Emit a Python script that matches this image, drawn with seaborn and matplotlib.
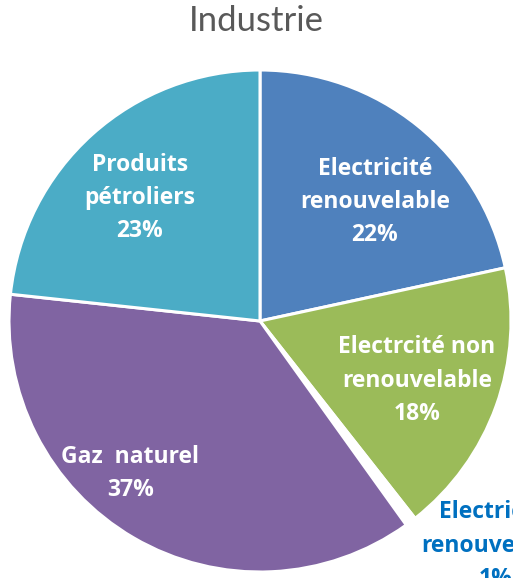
import matplotlib.pyplot as plt
import seaborn as sns
import numpy as np

sns.set_theme(style="white")
plt.rcParams["font.family"] = ["Lato", "DejaVu Sans"]

categories = [
    "Electricité\nrenouvelable",
    "Electrcité non\nrenouvelable",
    "Electricité\nrenouvelable",
    "Gaz  naturel",
    "Produits\npétroliers",
]
shares = [21.6, 17.8, 0.7, 36.6, 23.3]

colors = ["#4F81BD", "#9BBB59", "#FFFFFF", "#8064A2", "#4BACC6"]
text_colors = ["white", "white", "#0070C0", "white", "white"]
# label placement: radius (fraction of pie radius) and angular shift in degrees
label_r = [0.668, 0.665, 1.29, 0.788, 0.693]
label_shift = [-4.4, 0, 9.9, -10.8, 1.7]

W, H = 513, 578
fig = plt.figure(figsize=(W / 100, H / 100), dpi=100)
cx, cy, r = 260, 321, 251
ax = fig.add_axes([(cx - r) / W, (H - cy - r) / H, 2 * r / W, 2 * r / H])

wedges, _ = ax.pie(
    shares,
    colors=colors,
    startangle=90,
    counterclock=False,
    wedgeprops={"edgecolor": "white", "linewidth": 2.2},
)
ax.set_xlim(-1, 1)
ax.set_ylim(-1, 1)
ax.set_aspect("auto")

for w, lab, pct, tc, lr, sh in zip(wedges, categories, shares, text_colors, label_r, label_shift):
    mid = np.deg2rad((w.theta1 + w.theta2) / 2 + sh)
    ax.text(
        lr * np.cos(mid),
        lr * np.sin(mid) - 0.012,
        f"{lab}\n{pct:.0f}%",
        ha="center",
        va="center",
        color=tc,
        fontsize=16.5,
        fontweight="bold",
        family=["Open Sans", "DejaVu Sans"],
        linespacing=1.52,
        clip_on=False,
    )

fig.text(0.5, 1 - 21 / H, "Industrie", ha="center", va="center",
         fontsize=25, color="#595959")

fig.savefig("out.png", dpi=100)
